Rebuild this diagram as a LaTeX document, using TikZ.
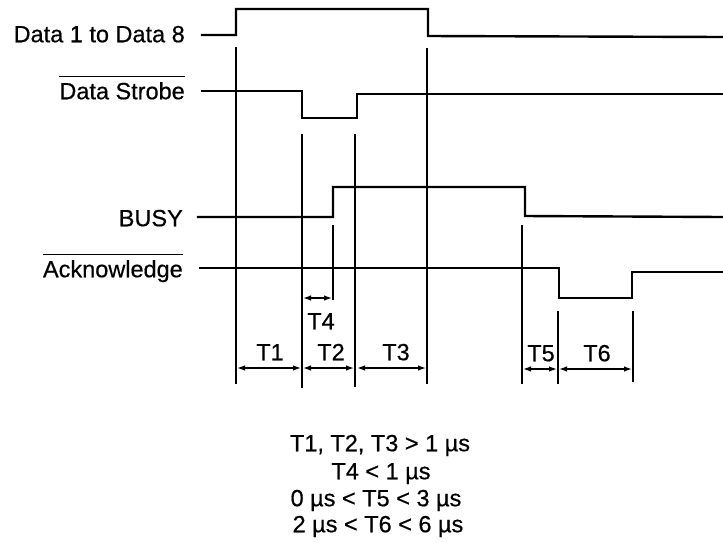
\documentclass[tikz,border=0pt]{standalone}
\usepackage{fontspec}
\setmainfont{Liberation Sans}[FakeBold=0.5]
\usetikzlibrary{arrows.meta}
\begin{document}
\begin{tikzpicture}[x=1pt,y=-1pt,
  sig/.style={line width=2.4pt,line cap=rect,line join=miter},
  guide/.style={line width=1.5pt},
  dim/.style={line width=1.3pt,{Latex[length=8pt,width=5.5pt]}-{Latex[length=8pt,width=5.5pt]}},
  lbl/.style={font=\fontsize{23.5}{27}\selectfont,inner sep=0pt,text height=16.5pt,text depth=0pt},
  ovl/.style={line width=1.2pt}]
\useasboundingbox (0,0) rectangle (723,542);
% signal labels
\node[lbl,anchor=east] (ld) at (185,34) {Data 1 to Data 8};
\node[lbl,anchor=east] (ls) at (185,91) {Data Strobe};
\node[lbl,anchor=east] (lb) at (183,218) {BUSY};
\node[lbl,anchor=east] (la) at (183,269) {Acknowledge};
\draw[ovl] ([yshift=6pt]ls.north west) -- ([yshift=6pt]ls.north east);
\draw[ovl] ([yshift=6pt]la.north west) -- ([yshift=6pt]la.north east);
% waveforms
\draw[sig] (202,35) -- (236,35) -- (236,9) -- (428,9) -- (428,36) -- (723,37);
\draw[sig] (202,91) -- (302,91) -- (302,118) -- (357,118) -- (357,94) -- (723,94);
\draw[sig] (198,217) -- (333,217) -- (333,187) -- (525,187) -- (525,216) -- (723,217);
\draw[sig] (200,268) -- (559,268) -- (559,298) -- (632,298) -- (632,272) -- (723,272);
% guide lines
\draw[guide] (236,47) -- (236,384);
\draw[guide] (302,134) -- (302,388);
\draw[guide] (333,225) -- (333,300);
\draw[guide] (355,134) -- (355,387);
\draw[guide] (427,48) -- (427,384);
\draw[guide] (522,225) -- (522,384);
\draw[guide] (558,311) -- (558,384);
\draw[guide] (633,311) -- (633,382);
% dimension coordinates
\coordinate (a1) at (237,368); \coordinate (b1) at (301,368);
\coordinate (a2) at (303,368); \coordinate (b2) at (354,368);
\coordinate (a3) at (357,368); \coordinate (b3) at (426,368);
\coordinate (a4) at (303,298); \coordinate (b4) at (332,298);
\coordinate (a5) at (523,369); \coordinate (b5) at (557,369);
\coordinate (a6) at (559,369); \coordinate (b6) at (632,369);
\draw[dim] (a1) -- (b1);
\draw[dim] (a2) -- (b2);
\draw[dim] (a3) -- (b3);
\draw[dim] (a4) -- (b4);
\draw[dim] (a5) -- (b5);
\draw[dim] (a6) -- (b6);
\node[lbl] (t1) at (270,352) {T1};
\node[lbl] (t2) at (331,352) {T2};
\node[lbl] (t3) at (396,352) {T3};
\node[lbl] (t4) at (321,321) {T4};
\node[lbl] (t5) at (541,353) {T5};
\node[lbl] (t6) at (597,353) {T6};
% conditions
\node[lbl] (c1) at (380,443) {T1, T2, T3 > 1 µs};
\node[lbl] (c2) at (381,471) {T4 < 1 µs};
\node[lbl] (c3) at (376,498) {0 µs < T5 < 3 µs};
\node[lbl] (c4) at (378,524) {2 µs < T6 < 6 µs};
\end{tikzpicture}
\end{document}
